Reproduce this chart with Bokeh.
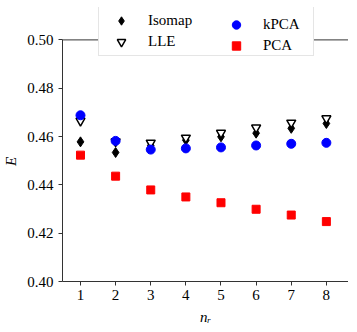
from bokeh.plotting import figure
from bokeh.models import (Legend, LegendItem, FixedTicker, NumeralTickFormatter, Range1d,
                          LinearAxis, Span)
from bokeh.embed import file_html
from bokeh.resources import INLINE

n_r = [1, 2, 3, 4, 5, 6, 7, 8]
isomap = [0.4578, 0.4534, 0.4562, 0.4585, 0.4599, 0.4614, 0.4634, 0.4654]
lle = [0.4665, 0.4580, 0.4574, 0.4595, 0.4615, 0.4637, 0.4657, 0.4675]
kpca = [0.4688, 0.4582, 0.4546, 0.4551, 0.4555, 0.4563, 0.4570, 0.4574]
pca = [0.4523, 0.4436, 0.4379, 0.4350, 0.4326, 0.4299, 0.4275, 0.4248]
y_ticks = [0.40, 0.42, 0.44, 0.46, 0.48, 0.50]
y_min, y_max = 0.40, 0.50

FONT = "Liberation Serif"
SPINE = "#333333"

FRAME_H = 274
AXES_H = 241.6  # pixel height of the 0.40..0.50 box
y_top = y_min + (y_max - y_min) * FRAME_H / AXES_H  # room above the box for the legend

p = figure(frame_width=286, frame_height=FRAME_H, output_backend="svg", toolbar_location=None,
           x_range=Range1d(0.488, 8.63), y_range=Range1d(y_min, y_top),
           min_border_left=55, min_border_top=7, min_border_bottom=44, min_border_right=0)
p.background_fill_color = "white"
p.border_fill_color = "white"
p.grid.visible = False
p.outline_line_color = None

r_iso = p.scatter(n_r, isomap, marker="diamond", size=10, color="black")
r_lle = p.scatter(n_r, lle, marker="inverted_triangle", size=9, fill_color="white",
                  line_color="black", line_width=1.5)
r_kpca = p.scatter(n_r, kpca, marker="circle", size=9, color="blue")
r_pca = p.scatter(n_r, pca, marker="square", size=8, color="red")

p.xaxis.ticker = FixedTicker(ticks=n_r)
p.yaxis.ticker = FixedTicker(ticks=y_ticks)
p.yaxis.formatter = NumeralTickFormatter(format="0.00")
p.yaxis.bounds = (y_min, y_max)
for ax in (p.xaxis, p.yaxis):
    ax.axis_line_color = SPINE
    ax.major_tick_line_color = SPINE
    ax.major_tick_in = 0
    ax.major_tick_out = 4
    ax.minor_tick_line_color = None
    ax.major_label_text_font = FONT
    ax.major_label_text_font_size = "15px"
    ax.major_label_text_color = "black"
    ax.axis_label_text_font = FONT
    ax.axis_label_text_font_size = "15px"
    ax.axis_label_text_font_style = "italic"
    ax.axis_label_text_color = "black"
p.xaxis.major_label_standoff = 4
p.yaxis.major_label_standoff = 5
p.xaxis.axis_label = "nᵣ"
# trailing no-break spaces centre the rotated "E" on the 0.40..0.50 box
p.yaxis.axis_label = "E" + "\u00a0" * 9
p.xaxis.axis_label_standoff = 6
p.yaxis.axis_label_standoff = 5

right = LinearAxis(bounds=(y_min, y_max), ticker=FixedTicker(ticks=[]),
                   axis_line_color=SPINE, major_tick_line_color=None, minor_tick_line_color=None,
                   major_label_text_font_size="0px")
p.add_layout(right, "right")

top_spine = Span(location=y_max, dimension="width", line_color=SPINE, line_width=1)
p.add_layout(top_spine)

common = dict(label_text_font=FONT, label_text_font_size="15px", label_text_color="black",
              glyph_width=38, glyph_height=21, label_height=21, padding=3, spacing=0,
              label_standoff=8)
legA = Legend(items=[LegendItem(label="Isomap", renderers=[r_iso]),
                     LegendItem(label="LLE", renderers=[r_lle])],
              location=(36, 225), label_width=162,
              border_line_color="#cccccc", background_fill_color="white",
              background_fill_alpha=1.0, **common)
legB = Legend(items=[LegendItem(label="kPCA", renderers=[r_kpca]),
                     LegendItem(label="PCA", renderers=[r_pca])],
              location=(155, 225), label_width=30,
              border_line_color=None, background_fill_alpha=0.0, **common)
p.add_layout(legA, "center")
p.add_layout(legB, "center")

open("out.html", "w").write(file_html(p, INLINE))
